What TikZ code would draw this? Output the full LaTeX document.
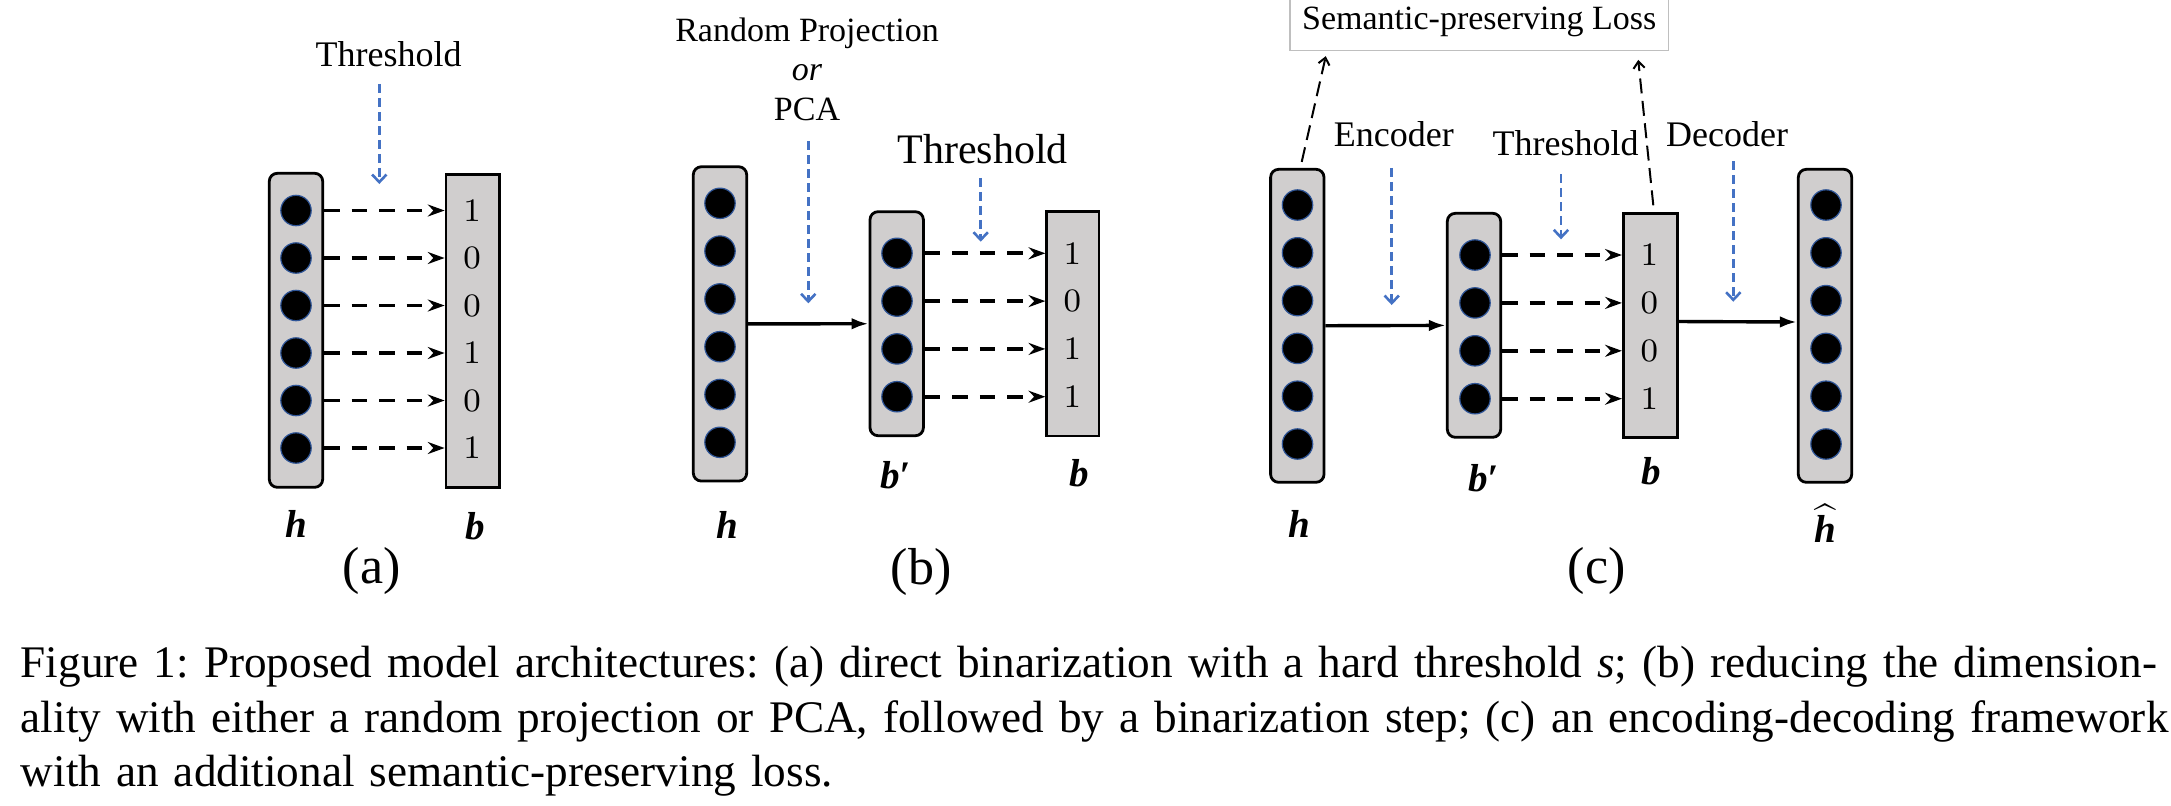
\documentclass[tikz,border=0pt]{standalone}
\usepackage{amsmath, amssymb}
\usepackage{fontspec}
\newfontfamily\tnr{Liberation Serif}
\usepackage{tikz}
\usetikzlibrary{arrows.meta, calc}
\definecolor{boxgray}{HTML}{D0CECE}
\definecolor{ringblue}{HTML}{2F5597}
\definecolor{hintblue}{HTML}{4472C4}
\definecolor{lossgray}{HTML}{BFBFBF}
\tikzset{
every picture/.style={x=0.25pt, y=-0.25pt},
vecbox/.style={draw, fill=boxgray, line width=0.7pt, rounded corners=2pt, minimum width=13.35pt, inner sep=0pt},
codebox/.style={vecbox, sharp corners},
neuron/.style={circle, fill=black, draw=ringblue, line width=0.3pt, minimum size=7.6pt, inner sep=0pt},
bit/.style={font=\fontsize{8.2}{9.8}\selectfont, inner sep=0pt},
binarize/.style={line width=0.95pt, dash pattern=on 3.875pt off 3pt, -{Stealth[length=4.2pt, width=3pt, inset=1.4pt]}},
mapto/.style={line width=0.85pt, -{Latex[length=4.25pt, width=2.9pt]}},
hint/.style={hintblue, line width=0.65pt, dash pattern=on 2.25pt off 1.25pt, -{Straight Barb[length=1.9pt, width=3.6pt]}},
lossline/.style={line width=0.5pt, dash pattern=on 3.75pt off 1.875pt, -{Straight Barb[length=1.7pt, width=2.8pt]}},
lbl/.style={font=\tnr\fontsize{9}{10.8}\selectfont, anchor=base, inner sep=0pt},
vname/.style={font=\tnr\fontsize{9.75}{11.7}\selectfont\bfseries\itshape, anchor=base, inner sep=0pt},
panel/.style={font=\tnr\fontsize{13}{15.6}\selectfont, anchor=base, inner sep=0pt}
}

\begin{document}
\begin{tikzpicture}
    \useasboundingbox (0,0) rectangle (2171,805);
    % (a)
    \node[vecbox, minimum height=78.5pt] (ha) at (296,330.3) {};
    \node[codebox, minimum height=78.35pt] (ba) at (472.7,331) {};
    \foreach \d [count=\i] in {1,0,0,1,0,1} {
      \pgfmathsetmacro{\yy}{210.5 + 47.5*(\i - 1)}
      \node[neuron] (ha\i) at (296,\yy) {};
      \node[bit] (ba\i) at (472.2,\yy) {\d};
      \draw[binarize] (ha.east |- ha\i) -- (ba.west |- ha\i);
    }
    \node[lbl] (thra) at (388.7,66.7) {Threshold};
    \coordinate (tipa) at (379.3,184);
    \draw[hint] ($(tipa |- thra.south)+(0,16)$) -- (tipa);
    \node[vname] (nha) at (296.7,537) {h};
    \node[vname] (nba) at (475,539.5) {b};
    \node[panel] (pa) at (371.7,583.3) {(a)};
    % (b)
    \node[vecbox, minimum height=78.575pt] (hb) at (720,323.9) {};
    \node[vecbox, minimum height=56pt] (rb) at (896.7,323.7) {};
    \node[codebox, minimum height=56.075pt, minimum width=13.075pt] (bb) at (1072.9,323.9) {};
    \foreach \i in {1,...,6} {
      \pgfmathsetmacro{\yy}{203.3 + 47.8*(\i - 1)}
      \node[neuron] (hb\i) at (720,\yy) {};
    }
    \foreach \d [count=\i] in {1,0,1,1} {
      \pgfmathsetmacro{\yy}{253.3 + 47.8*(\i - 1)}
      \node[neuron] (rb\i) at (897,\yy) {};
      \node[bit] (bb\i) at (1072.3,\yy) {\d};
      \draw[binarize] (rb.east |- rb\i) -- (bb.west |- rb\i);
    }
    \draw[mapto] (hb) -- (rb);
    \node[font=\tnr\fontsize{8.5}{9.8}\selectfont, align=center, anchor=base, inner sep=0pt] (proj) at (807,120) {Random Projection\\\textit{or}\\PCA};
    \coordinate (tipb1) at (808.3,303.3);
    \draw[hint] ($(tipb1 |- proj.south)+(0,20)$) -- (tipb1);
    \node[lbl, font=\tnr\fontsize{10.5}{12.6}\selectfont] (thrb) at (982.5,163.3) {Threshold};
    \coordinate (tipb2) at (980.7,241.7);
    \draw[hint] ($(tipb2 |- thrb.south)+(0,13.4)$) -- (tipb2);
    \node[vname] (nhb) at (727,538) {h};
    \node[vname] (nrb) at (895.7,488.3) {b′};
    \node[vname] (nbb) at (1079.5,486.7) {b};
    \node[panel] (pb) at (921,584) {(b)};
    % (c)
    \node[vecbox, minimum height=78.25pt] (hc) at (1297.3,325.8) {};
    \node[vecbox, minimum height=56pt] (rc) at (1474,325.3) {};
    \node[codebox, minimum height=56pt, minimum width=13.5pt] (bc) at (1650.3,325.3) {};
    \node[vecbox, minimum height=78.25pt] (oc) at (1825,325.8) {};
    \foreach \i in {1,...,6} {
      \pgfmathsetmacro{\yy}{205 + 47.8*(\i - 1)}
      \node[neuron] (hc\i) at (1297.5,\yy) {};
      \node[neuron] (oc\i) at (1826,\yy) {};
    }
    \foreach \d [count=\i] in {1,0,0,1} {
      \pgfmathsetmacro{\yy}{255 + 47.9*(\i - 1)}
      \node[neuron] (rc\i) at (1475,\yy) {};
      \node[bit] (bc\i) at (1649.3,\yy) {\d};
      \draw[binarize] (rc.east |- rc\i) -- (bc.west |- rc\i);
    }
    \draw[mapto] (hc) -- (rc);
    \draw[mapto] ([yshift=0.95pt]bc.east) -- ([yshift=0.95pt]oc.west);
    \node[lbl, draw=lossgray, line width=0.325pt, text height=7.75pt, text depth=5.25pt, minimum width=94.575pt, font=\tnr\fontsize{8.5}{10}\selectfont] (loss) at (1479.2,29.5) {Semantic-preserving Loss};
    \draw[lossline] ([xshift=1.1pt, yshift=1.5pt]hc.north) -- ([xshift=9.1pt, yshift=-1.25pt]loss.south west);
    \draw[lossline] ([xshift=0.75pt, yshift=1.65pt]bc.north) -- ([xshift=-7.7pt, yshift=-2.2pt]loss.south east);
    \node[lbl] (enc) at (1393.8,146.7) {Encoder};
    \coordinate (tipc1) at (1391.7,305);
    \draw[hint] ($(tipc1 |- enc.south)+(0,20)$) -- (tipc1);
    \node[lbl] (thrc) at (1565.7,155) {Threshold};
    \coordinate (tipc2) at (1561,239.3);
    \draw[hint] ($(tipc2 |- thrc.south)+(0,18.3)$) -- (tipc2);
    \node[lbl] (dec) at (1727,146.7) {Decoder};
    \coordinate (tipc3) at (1733.3,301.7);
    \draw[hint] ($(tipc3 |- dec.south)+(0,13.3)$) -- (tipc3);
    \node[vname] (nhc) at (1299.4,537.7) {h};
    \node[vname] (nrc) at (1483.3,491.7) {b′};
    \node[vname] (nbc) at (1651.7,484) {b};
    \node[vname] (noc) at (1825.7,542.3) {$\widehat{\text{\kern1.2pt h\kern1.2pt}}$};
    \node[panel] (pc) at (1596.6,583.6) {(c)};
    % caption
    \node[anchor=base west, inner sep=0pt, text width=527.75pt, align=left, font=\tnr\fontsize{11.3}{13.625}\selectfont\frenchspacing] (caption) at (20,677.7) {\makebox[\linewidth][s]{Figure 1: Proposed model architectures: (a) direct binarization with a hard threshold \textit{s}; (b) reducing the dimension-}\\\makebox[\linewidth][s]{ality with either a random projection or PCA, followed by a binarization step; (c) an encoding-decoding framework}\\with an additional semantic-preserving loss.};
\end{tikzpicture}
\end{document}
